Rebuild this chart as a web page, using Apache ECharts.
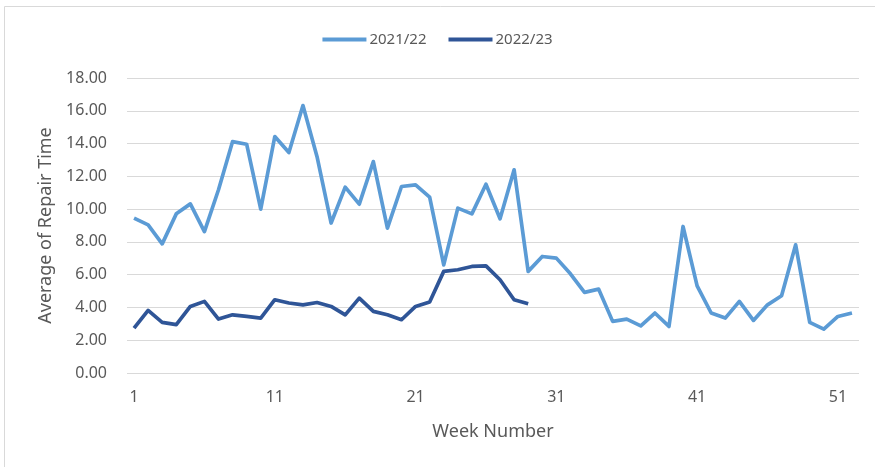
<!DOCTYPE html>
<html>
<head>
<meta charset="utf-8">
<script src="https://cdn.jsdelivr.net/npm/echarts@6/dist/echarts.min.js"></script>
<style>
  html, body { margin: 0; padding: 0; background: #fff; }
  #chart { width: 875px; height: 467px; }
</style>
</head>
<body>
<div id="chart"></div>
<script>
// week numbers 1..52
const weeks = ['1','2','3','4','5','6','7','8','9','10','11','12','13','14','15','16','17','18','19','20',
  '21','22','23','24','25','26','27','28','29','30','31','32','33','34','35','36','37','38','39','40',
  '41','42','43','44','45','46','47','48','49','50','51','52']

const season2122 = [9.45, 9.04, 7.88, 9.71, 10.32, 8.63, 11.18, 14.12, 13.96, 10.0,
  14.43, 13.45, 16.32, 13.2, 9.15, 11.34, 10.3, 12.9, 8.84, 11.38,
  11.48, 10.73, 6.6, 10.06, 9.71, 11.52, 9.41, 12.4, 6.2, 7.11,
  7.01, 6.05, 4.92, 5.12, 3.15, 3.29, 2.88, 3.66, 2.84, 8.94,
  5.32, 3.66, 3.35, 4.37, 3.21, 4.16, 4.71, 7.82, 3.09, 2.68,
  3.45, 3.66]

const season2223 = [2.74, 3.82, 3.09, 2.95, 4.06, 4.37, 3.29, 3.55, 3.45, 3.35,
  4.47, 4.27, 4.16, 4.3, 4.06, 3.55, 4.57, 3.76, 3.55, 3.25,
  4.06, 4.33, 6.2, 6.3, 6.5, 6.54, 5.69, 4.47, 4.23]

const font = 'Noto Sans'
const chart = echarts.init(document.getElementById('chart'))

chart.setOption({
  animation: false,
  graphic: [{
    type: 'rect',
    shape: { x: 4.5, y: 6.5, width: 900, height: 500 },
    style: { fill: 'none', stroke: '#d9d9d9', lineWidth: 1 },
    silent: true
  }],
  legend: {
    top: 27,
    left: 'center',
    itemWidth: 44,
    itemHeight: 4,
    itemGap: 22,
    icon: 'rect',
    textStyle: { fontFamily: font, fontSize: 15, color: '#595959', padding: [0, 0, 0, -2] },
    data: ['2021/22', '2022/23']
  },
  grid: { left: 127, right: 16, top: 78, bottom: 94 },
  xAxis: {
    type: 'category',
    data: weeks,
    boundaryGap: true,
    name: 'Week Number',
    nameLocation: 'middle',
    nameGap: 50,
    nameTextStyle: { fontFamily: font, fontSize: 18, color: '#595959' },
    axisLine: { show: false },
    axisTick: { show: false },
    axisLabel: { interval: 9, margin: 16, fontFamily: font, fontSize: 16, color: '#595959' }
  },
  yAxis: {
    type: 'value',
    min: 0,
    max: 18,
    interval: 2,
    name: 'Average of Repair Time',
    nameLocation: 'middle',
    nameGap: 70,
    nameTextStyle: { fontFamily: font, fontSize: 18, color: '#595959' },
    axisLabel: { formatter: v => v.toFixed(2), margin: 20, fontFamily: font, fontSize: 16, color: '#595959' },
    splitLine: { lineStyle: { color: '#d9d9d9', width: 1 } }
  },
  series: [
    {
      name: '2021/22',
      type: 'line',
      data: season2122,
      symbol: 'none',
      lineStyle: { color: '#5b9bd5', width: 3.7, join: 'round' },
      itemStyle: { color: '#5b9bd5' }
    },
    {
      name: '2022/23',
      type: 'line',
      data: season2223,
      symbol: 'none',
      lineStyle: { color: '#2f5597', width: 3.7, join: 'round' },
      itemStyle: { color: '#2f5597' }
    }
  ]
})
</script>
</body>
</html>
